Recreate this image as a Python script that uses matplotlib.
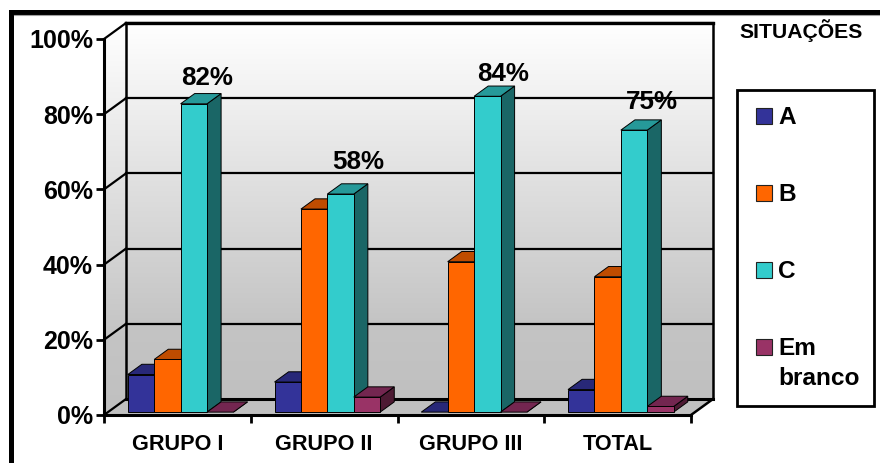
import numpy as np
import matplotlib
matplotlib.use("Agg")
import matplotlib.pyplot as plt
from matplotlib.colors import LinearSegmentedColormap
from matplotlib.patches import Polygon, Rectangle

plt.rcParams['font.family'] = ['Liberation Sans', 'DejaVu Sans']
plt.rcParams['font.weight'] = 'bold'

# data
groups = ["GRUPO I", "GRUPO II", "GRUPO III", "TOTAL"]
situacoes = ["A", "B", "C", "Em\nbranco"]
val_a = [10, 8, 0, 6]
val_b = [14, 54, 40, 36]
val_c = [82, 58, 84, 75]
val_branco = [0, 4, 0, 1.5]
y_ticks = [0, 20, 40, 60, 80, 100]
label_c = ["82%", "58%", "84%", "75%"]

# colours: front, top, side
colors = [("#333399", "#282878", "#1c1c5c"),
          ("#FF6600", "#BF4C00", "#803300"),
          ("#33CCCC", "#269999", "#1A6666"),
          ("#993366", "#732650", "#4d1a33")]

W, H = 880, 463
fig = plt.figure(figsize=(W / 100, H / 100), dpi=100, facecolor="white")

# pixel overlay for the outer frame and legend box
bg = fig.add_axes([0, 0, 1, 1], zorder=0)
bg.set_xlim(0, W)
bg.set_ylim(H, 0)
bg.axis("off")
bg.plot([10.5, 10.5, W], [H, 11.5, 11.5], color="black", lw=3.6,
        solid_joinstyle="miter", solid_capstyle="butt")
bg.plot([14, W], [14.5, 14.5], color="#a0a0a0", lw=0.8)
bg.add_patch(Rectangle((737, 90), 137, 316, fc="white", ec="black", lw=2))
bg.text(801, 31, "SITUAÇÕES", ha="center", va="center", fontsize=15.2)

# legend, drawn by hand since the two line label sits on its first line
for i, name in enumerate(situacoes):
    yc = 116 + 77 * i
    bg.add_patch(Rectangle((756, yc - 8), 16, 16, fc=colors[i][0], ec="#222222", lw=0.8))
    bg.text(778, yc - 10, name, ha="left", va="top", fontsize=17.6, linespacing=1.38)

# main axes: x in categories, y in percent, front plane of the 3D box
left, right, bottom, top = 104, 691, 415, 39
ax = fig.add_axes([left / W, (H - bottom) / H, (right - left) / W, (bottom - top) / H], zorder=1)
ax.patch.set_alpha(0)
DX = 22 / ((right - left) / 4)
DY = 16 / ((bottom - top) / 100)


def proj(x, y, z):
    # z is depth, 0 front to 1 back
    return (x + z * DX, y + z * DY)


grad = np.linspace(1, 0, 256).reshape(-1, 1)
wall_cmap = LinearSegmentedColormap.from_list("wall", [(0, "#C0C0C0"), (0.2, "#C4C4C4"), (1, "#FFFFFF")])

back = Polygon([proj(0, 0, 1), proj(4, 0, 1), proj(4, 100, 1), proj(0, 100, 1)], closed=True,
               transform=ax.transData, fc="none", ec="none")
ax.add_patch(back)
im = ax.imshow(grad, extent=[DX, 4 + DX, DY, 100 + DY], aspect="auto", cmap=wall_cmap, vmin=0, vmax=1, zorder=1)
im.set_clip_box(fig.bbox)
im.set_clip_path(back)

side = Polygon([proj(0, 0, 0), proj(0, 0, 1), proj(0, 100, 1), proj(0, 100, 0)], closed=True,
               transform=ax.transData, fc="none", ec="none")
ax.add_patch(side)
im2 = ax.imshow(grad, extent=[0, DX, 0, 100 + DY], aspect="auto", cmap=wall_cmap, vmin=0, vmax=1, zorder=1)
im2.set_clip_box(fig.bbox)
im2.set_clip_path(side)

floor = Polygon([proj(0, 0, 0), proj(4, 0, 0), proj(4, 0, 1), proj(0, 0, 1)], closed=True,
                fc="#C0C0C0", ec="none", zorder=1.5, clip_on=False)
ax.add_patch(floor)

# grid lines on the walls
for t in y_ticks:
    bx, by = proj(0, t, 1)
    ex, ey = proj(4, t, 1)
    ax.plot([bx, ex], [by, ey], color="black", lw=1.6 if t else 2.2, zorder=2, clip_on=False)
    ax.plot([0, bx], [t, by], color="black", lw=1.6, zorder=2, clip_on=False)
ax.plot([DX, DX], [DY, 100 + DY], color="black", lw=1.8, zorder=2, clip_on=False)
ax.plot([4 + DX, 4 + DX], [DY, 100 + DY], color="black", lw=1.8, zorder=2, clip_on=False)
ax.plot([DX, 4 + DX], [100 + DY, 100 + DY], color="black", lw=2.4, zorder=2, clip_on=False)
ax.plot([4, 4 + DX], [0, DY], color="black", lw=1.8, zorder=2, clip_on=False)


def bar3d(x0, w, v, cols, z):
    face, tp, sd = cols
    z0, z1 = 0.18, 0.82
    kw = dict(closed=True, ec="black", lw=0.7, clip_on=False, zorder=z)
    ax.add_patch(Polygon([proj(x0 + w, 0, z0), proj(x0 + w, 0, z1), proj(x0 + w, v, z1), proj(x0 + w, v, z0)], fc=sd, **kw))
    ax.add_patch(Polygon([proj(x0, v, z0), proj(x0 + w, v, z0), proj(x0 + w, v, z1), proj(x0, v, z1)], fc=tp, **kw))
    if v > 0:
        ax.add_patch(Polygon([proj(x0, 0, z0), proj(x0 + w, 0, z0), proj(x0 + w, v, z0), proj(x0, v, z0)], fc=face, **kw))


series = [val_a, val_b, val_c, val_branco]
bar_w = 0.18
gap = 0.135
order = 3
for i in range(len(groups)):
    for s, vals in enumerate(series):
        bar3d(i + gap + s * bar_w, bar_w, vals[i], colors[s], order)
        order += 0.01

# value labels over series C, nudged by hand
nudge_x = [0.115, 0.145, 0.135, 0.15]
nudge_y = [7.5, 9.3, 6.7, 8.2]
for i, txt in enumerate(label_c):
    ax.text(i + gap + 2.5 * bar_w + nudge_x[i], val_c[i] + nudge_y[i], txt, ha="center", va="center",
            fontsize=18.7, zorder=6, clip_on=False)

ax.set_xlim(0, 4)
ax.set_ylim(0, 100)
ax.set_yticks(y_ticks)
ax.set_yticklabels([f"{t}%" for t in y_ticks], fontsize=18)
ax.set_xticks(range(5))
ax.set_xticklabels([])
ax.set_xticks(np.arange(len(groups)) + 0.5, minor=True)
ax.set_xticklabels(groups, minor=True, fontsize=15.6)
ax.tick_params(axis="both", which="major", length=6, width=2, pad=2)
ax.tick_params(axis="x", which="minor", length=0, pad=14)
for sp in ["top", "right"]:
    ax.spines[sp].set_visible(False)
for sp in ["left", "bottom"]:
    ax.spines[sp].set_linewidth(2.2)
    ax.spines[sp].set_zorder(2.5)

fig.savefig("out.png", dpi=100, facecolor="white")
